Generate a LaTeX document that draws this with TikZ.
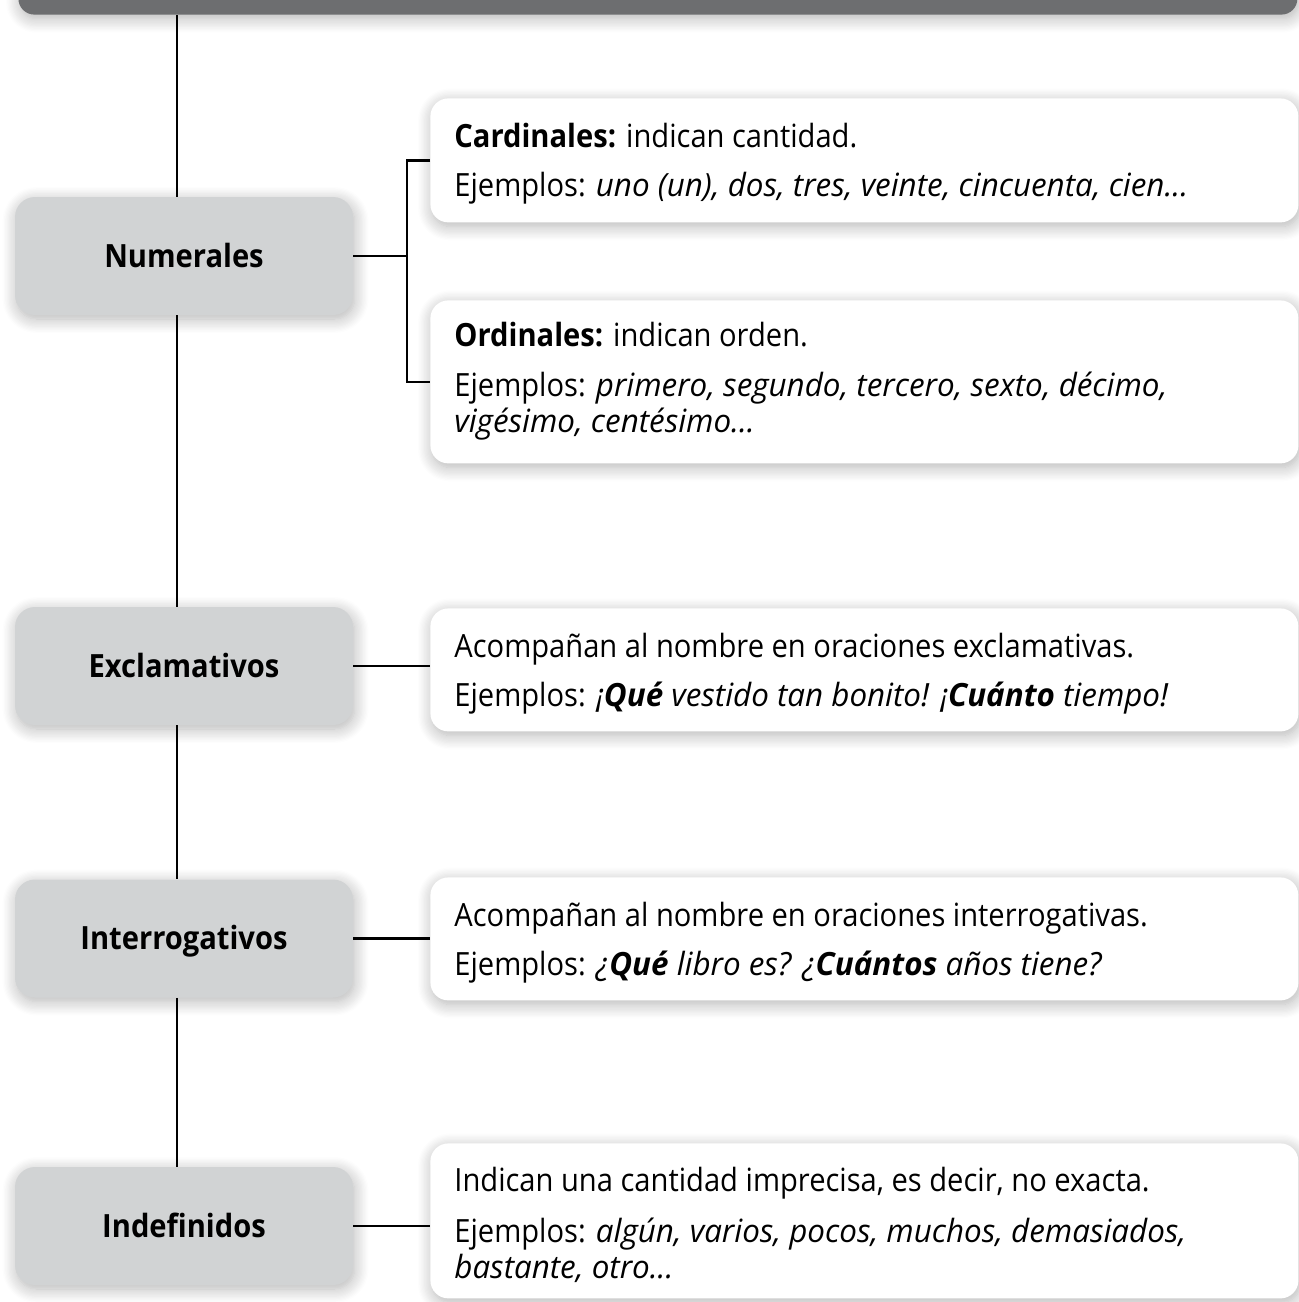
\documentclass[tikz,border=0pt]{standalone}
\usepackage{fontspec}
\setmainfont{Open Sans}[FakeStretch=0.91]
\newfontfamily\exfont{Open Sans}[FakeStretch=0.98]
\newcommand{\ejit}[1]{{\exfont\itshape #1}}
\usetikzlibrary{shadows.blur}
\definecolor{bargray}{HTML}{6D6E70}
\definecolor{boxgray}{HTML}{D1D3D4}
\begin{document}
\begin{tikzpicture}[x=0.5pt,y=-0.5pt,
  shd/.style={blur shadow={shadow xshift=0.8pt,shadow yshift=-2pt,shadow blur radius=7pt,shadow blur steps=12,shadow opacity=30}},
  lbox/.style={shd,fill=boxgray,rounded corners=10pt,minimum width=169pt,minimum height=59pt,inner sep=0pt,
     font=\fontsize{16}{19}\selectfont\bfseries,text height=11pt,text depth=0pt},
  rbox/.style={shd,fill=white,rounded corners=9pt,minimum width=434pt,anchor=north west,inner sep=0pt},
  txt/.style={inner sep=0pt,anchor=base west,font=\fontsize{16}{19}\selectfont},
  conn/.style={line width=1.1pt,black}]
\useasboundingbox (0,0) rectangle (1299,1302);
\coordinate (sp) at (177,0);
\coordinate (bx) at (407,0);
% top bar
\node[shd,fill=bargray,rounded corners=8pt,minimum width=639.5pt,minimum height=30pt,anchor=south west,inner sep=0pt] (bar) at (18,15) {};
% left boxes
\node[lbox] (num) at (184,256) {Numerales};
\node[lbox] (exc) at (184,666) {Exclamativos};
\node[lbox] (int) at (184,938.5) {Interrogativos};
\node[lbox] (ind) at (184,1226) {Indefinidos};
% right boxes
\node[rbox,minimum height=62pt] (card) at (430,98) {};
\node[rbox,minimum height=81.5pt] (ord) at (430,300) {};
\node[rbox,minimum height=61.5pt] (excR) at (430,608) {};
\node[rbox,minimum height=61.5pt] (intR) at (430,877) {};
\node[rbox,minimum height=77.5pt] (indR) at (430,1143) {};
% spine segments
\draw[conn] (bar.south -| sp) -- (num.north -| sp);
\draw[conn] (num.south -| sp) -- (exc.north -| sp);
\draw[conn] (exc.south -| sp) -- (int.north -| sp);
\draw[conn] (int.south -| sp) -- (ind.north -| sp);
% connectors
\draw[conn] (num.east) -- (num.east -| bx);
\draw[conn] (card.west) -| (bx |- num.east) |- (ord.west);
\draw[conn] (exc.east) -- (excR.west |- exc.east);
\draw[conn] (int.east) -- (intR.west |- int.east);
\draw[conn] (ind.east) -- (indR.west |- ind.east);
% texts
\node[txt] (t1a) at (454,147) {\textbf{Cardinales:} indican cantidad.};
\node[txt] (t1b) at (454,196) {Ejemplos: \ejit{uno (un), dos, tres, veinte, cincuenta, cien...}};
\node[txt] (t2a) at (454,346) {\textbf{Ordinales:} indican orden.};
\node[txt] (t2b) at (454,396) {Ejemplos: \ejit{primero, segundo, tercero, sexto, décimo,}};
\node[txt] (t2c) at (454,432) {\ejit{vigésimo, centésimo...}};
\node[txt] (t3a) at (454,657) {Acompañan al nombre en oraciones exclamativas.};
\node[txt] (t3b) at (454,706) {Ejemplos: \ejit{¡\textbf{Qué} vestido tan bonito! ¡\textbf{Cuánto} tiempo!}};
\node[txt] (t4a) at (454,926) {Acompañan al nombre en oraciones interrogativas.};
\node[txt] (t4b) at (454,975) {Ejemplos: \ejit{¿\textbf{Qué} libro es? ¿\textbf{Cuántos} años tiene?}};
\node[txt] (t5a) at (454,1191) {Indican una cantidad imprecisa, es decir, no exacta.};
\node[txt] (t5b) at (454,1242) {Ejemplos: \ejit{algún, varios, pocos, muchos, demasiados,}};
\node[txt] (t5c) at (454,1278) {\ejit{bastante, otro...}};
\end{tikzpicture}
\end{document}
